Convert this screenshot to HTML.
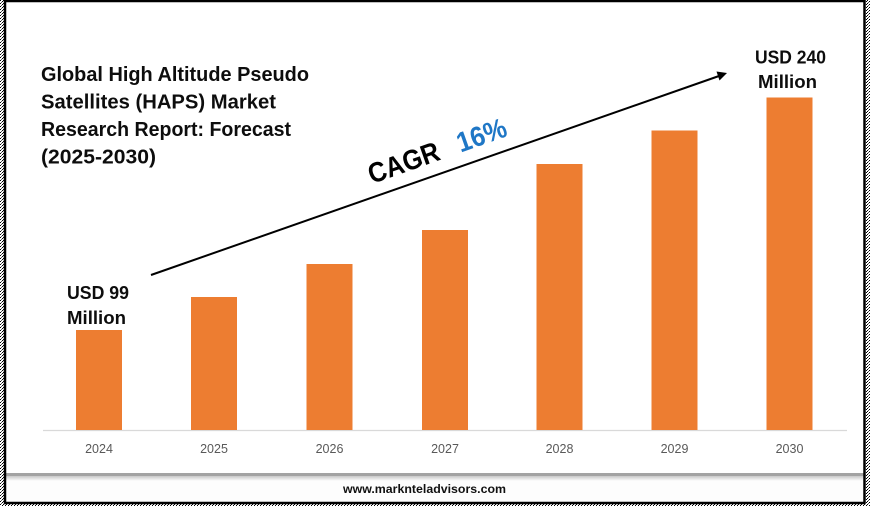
<!DOCTYPE html>
<html>
<head>
<meta charset="utf-8">
<style>
  html, body { margin: 0; padding: 0; background: #ffffff; }
  body { width: 870px; height: 506px; overflow: hidden; }
  svg { display: block; }
  text { font-family: "Liberation Sans", Arial, sans-serif; }
</style>
</head>
<body>
<svg width="870" height="506" viewBox="0 0 870 506" xmlns="http://www.w3.org/2000/svg">
  <defs>
    <pattern id="noise" width="3" height="3" patternUnits="userSpaceOnUse">
      <rect width="3" height="3" fill="#ffffff"/>
      <rect x="0" y="0" width="1" height="1" fill="#000"/>
      <rect x="2" y="1" width="1" height="1" fill="#000"/>
      <rect x="1" y="2" width="1" height="1" fill="#555"/>
    </pattern>
    <linearGradient id="shadow" x1="0" y1="0" x2="0" y2="1">
      <stop offset="0" stop-color="#c8c8c8"/>
      <stop offset="1" stop-color="#ffffff"/>
    </linearGradient>
  </defs>

  <!-- background -->
  <rect x="0" y="0" width="870" height="506" fill="#ffffff"/>
  <!-- noisy outer edges -->
  <rect x="0" y="0" width="4" height="506" fill="url(#noise)"/>
  <rect x="866" y="0" width="4" height="506" fill="url(#noise)"/>
  <rect x="0" y="504" width="870" height="2" fill="url(#noise)"/>

  <!-- lower footer area -->
  <rect x="5" y="476" width="859" height="27" fill="#fdfdfd"/>
  <!-- separator band -->
  <rect x="5" y="473" width="859" height="3" fill="#a3a3a3"/>
  <rect x="5" y="476" width="859" height="5" fill="url(#shadow)"/>

  <!-- frame -->
  <rect x="5" y="1" width="859.5" height="502" fill="none" stroke="#000" stroke-width="2.5"/>

  <!-- axis line -->
  <line x1="43" y1="430.5" x2="847" y2="430.5" stroke="#d9d9d9" stroke-width="1.2"/>

  <!-- bars -->
  <g fill="#ed7d31">
    <rect x="76" y="330" width="46" height="100"/>
    <rect x="191" y="297" width="46" height="133"/>
    <rect x="306.5" y="264" width="46" height="166"/>
    <rect x="422" y="230" width="46" height="200"/>
    <rect x="536.5" y="164" width="46" height="266"/>
    <rect x="651.5" y="130.5" width="46" height="299.5"/>
    <rect x="766.5" y="97.5" width="46" height="332.5"/>
  </g>

  <!-- year labels -->
  <g font-size="12.5" fill="#595959" text-anchor="middle">
    <text x="99" y="453">2024</text>
    <text x="214" y="453">2025</text>
    <text x="329.5" y="453">2026</text>
    <text x="445" y="453">2027</text>
    <text x="559.5" y="453">2028</text>
    <text x="674.5" y="453">2029</text>
    <text x="789.5" y="453">2030</text>
  </g>

  <!-- url -->
  <text x="343" y="493" font-size="12" font-weight="bold" fill="#111" textLength="163" lengthAdjust="spacingAndGlyphs">www.marknteladvisors.com</text>

  <!-- title -->
  <g font-size="20" font-weight="bold" fill="#0d0d0d">
    <text x="41" y="81" textLength="268" lengthAdjust="spacingAndGlyphs">Global High Altitude Pseudo</text>
    <text x="41" y="108.5" textLength="235" lengthAdjust="spacingAndGlyphs">Satellites (HAPS) Market</text>
    <text x="41" y="136" textLength="250" lengthAdjust="spacingAndGlyphs">Research Report: Forecast</text>
    <text x="41" y="163.5" textLength="115" lengthAdjust="spacingAndGlyphs">(2025-2030)</text>
  </g>

  <!-- arrow -->
  <line x1="151" y1="275" x2="719" y2="76" stroke="#000" stroke-width="2"/>
  <polygon points="727,73 716.5,71.5 719.5,80.5" fill="#000"/>

  <!-- CAGR -->
  <g transform="translate(372,184) rotate(-19.5)">
    <text x="0" y="0" font-size="28" font-weight="bold" fill="#000" textLength="74" lengthAdjust="spacingAndGlyphs">CAGR</text>
    <text x="94" y="0" font-size="28" font-weight="bold" fill="#1f77c6" textLength="51" lengthAdjust="spacingAndGlyphs">16%</text>
  </g>

  <!-- value labels -->
  <g font-size="18" font-weight="bold" fill="#0d0d0d">
    <text x="67" y="299" textLength="62" lengthAdjust="spacingAndGlyphs">USD 99</text>
    <text x="67" y="324" textLength="59" lengthAdjust="spacingAndGlyphs">Million</text>
    <text x="755" y="63.5" textLength="71" lengthAdjust="spacingAndGlyphs">USD 240</text>
    <text x="758" y="88" textLength="59" lengthAdjust="spacingAndGlyphs">Million</text>
  </g>
</svg>
</body>
</html>
